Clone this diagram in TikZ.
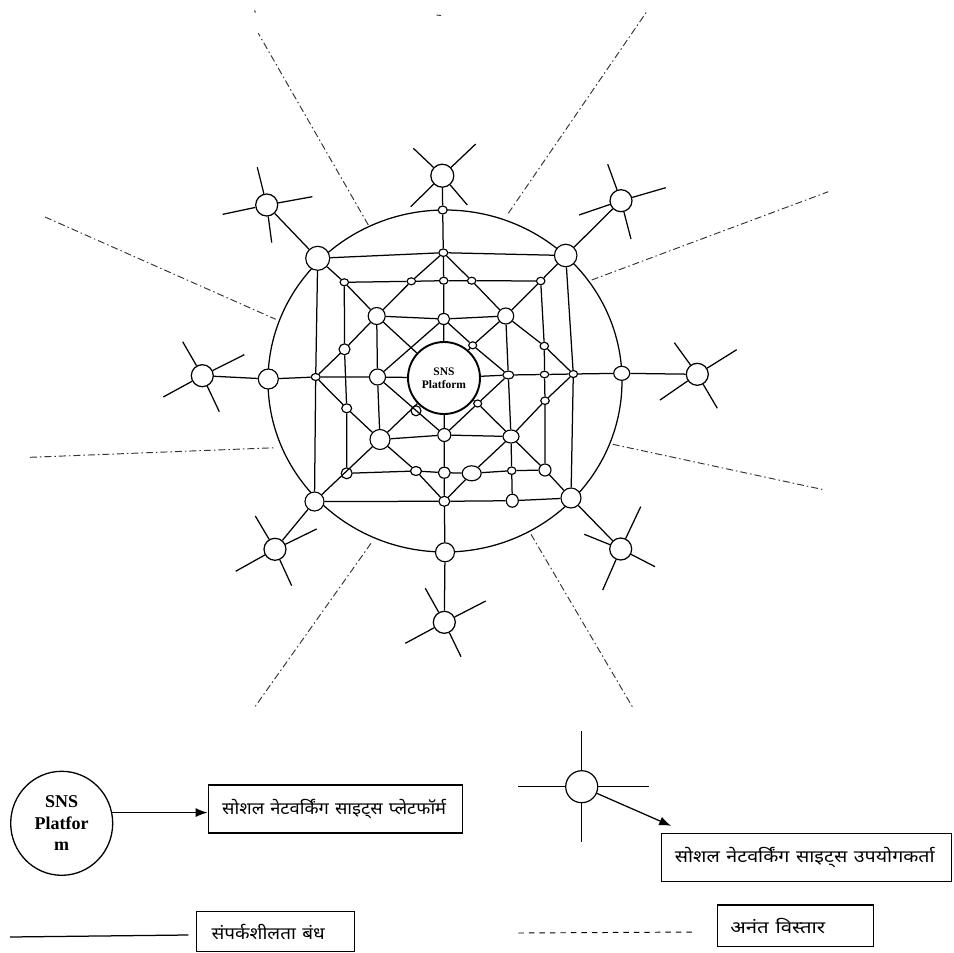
\documentclass[tikz,border=0pt]{standalone}
\usepackage{fontspec}
\usepackage{graphicx}
\setmainfont{Liberation Serif}
\newfontfamily\hindi[Script=Devanagari]{Noto Sans}
\usetikzlibrary{shapes.geometric,arrows.meta}
\begin{document}
\begin{tikzpicture}[x=1pt,y=-1pt,line width=1.25pt,
  nd/.style={circle,draw,fill=white,inner sep=0pt,line width=1.15pt},
  ne/.style={ellipse,draw,fill=white,inner sep=0pt,line width=1.15pt},
  hollow/.style={circle,draw,inner sep=0pt,line width=1.15pt},
  user/.style={circle,draw,fill=white,inner sep=0pt,minimum size=22pt,line width=1.25pt},
  ray/.style={line width=0.95pt,dash pattern=on 7pt off 3pt on 1.5pt off 3pt,black!80},
  lbox/.style={draw,line width=1.2pt,inner sep=0pt,align=left,font=\hindi\fontsize{17}{20}\selectfont},
  arr/.style={-{Latex[length=12pt,width=9pt]}}]
\useasboundingbox (0,0) rectangle (954,953);

% big circle
\draw (445,381) ellipse [x radius=177, y radius=171];

% infinite extension rays
\draw[ray] (45,217) -- (275.7,319.3);
\draw[ray] (30,457.3) -- (275.7,447.7);
\draw[ray] (371,543.3) -- (255,706.7);
\draw[ray] (531,534.3) -- (632.3,706.7);
\draw[ray] (612.7,444.3) -- (825,490);
\draw[ray] (591.7,280) -- (828.3,191.7);
\draw[ray] (508.3,213.3) -- (646.7,11.7);
\draw[ray] (368.3,225) -- (258.3,33.3);
\draw[line width=0.9pt,black!80] (254.5,10.5) -- (255.5,12.5);
\draw[line width=0.9pt,black!80] (436.5,15) -- (441,15.5);

% circle boundary nodes
\node[ne,minimum width=9pt,minimum height=8pt] (cT) at (442.7,210) {};
\node[nd,minimum size=20pt] (cL) at (268.3,379) {};
\node[ne,minimum width=16pt,minimum height=14pt] (cR) at (621.7,373.3) {};
\node[nd,minimum size=19pt] (cB) at (445,552.3) {};
% outer square
\node[nd,minimum size=24pt] (oTL) at (317.7,258.3) {};
\node[ne,minimum width=9pt,minimum height=7.5pt] (oT) at (443.3,252.7) {};
\node[nd,minimum size=22.5pt] (oTR) at (565.7,255.5) {};
\node[ne,minimum width=9pt,minimum height=7pt] (oL) at (315.7,377) {};
\node[ne,minimum width=8.5pt,minimum height=7pt] (oR) at (573.3,374) {};
\node[nd,minimum size=19pt] (oBL) at (314.5,501.5) {};
\node[ne,minimum width=11pt,minimum height=10pt] (oB) at (444.3,501.3) {};
\node[ne,minimum width=12pt,minimum height=13pt] (oB2) at (512.3,500.7) {};
\node[nd,minimum size=20pt] (oBR) at (571,498) {};
% second square
\node[ne,minimum width=8.5pt,minimum height=7pt] (sTL) at (344.3,282.3) {};
\node[ne,minimum width=8.5pt,minimum height=7pt] (sT1) at (411.3,281.3) {};
\node[ne,minimum width=8.5pt,minimum height=7pt] (sT) at (443.7,280.7) {};
\node[ne,minimum width=8.5pt,minimum height=7pt] (sT2) at (471.7,280.7) {};
\node[ne,minimum width=8.5pt,minimum height=7.5pt] (sTR) at (540.7,281) {};
\node[nd,minimum size=11pt] (sL1) at (344.5,349.3) {};
\node[ne,minimum width=10pt,minimum height=9pt] (sL2) at (346.7,408.3) {};
\node[ne,minimum width=8.5pt,minimum height=7.5pt] (sR1) at (544.3,346) {};
\node[ne,minimum width=8.5pt,minimum height=6.5pt] (sR) at (544.5,374.5) {};
\node[ne,minimum width=8.5pt,minimum height=7.5pt] (sR2) at (545,400.7) {};
\node[hollow,minimum size=11pt] (sBL) at (346.7,473.3) {};
\node[ne,minimum width=11pt,minimum height=9pt] (sB1) at (416,471) {};
\node[ne,minimum width=12pt,minimum height=11pt] (sB) at (444.3,472.7) {};
\node[ne,minimum width=19pt,minimum height=15pt] (sB2) at (471.7,473.3) {};
\node[ne,minimum width=8.5pt,minimum height=7.5pt] (sB3) at (511.7,470.7) {};
\node[nd,minimum size=12pt] (sBR) at (545,470) {};
% inner square
\node[nd,minimum size=17pt] (iTL) at (376.7,316) {};
\node[ne,minimum width=12pt,minimum height=11pt] (iT) at (443.7,319) {};
\node[nd,minimum size=16pt] (iTR) at (505.7,316) {};
\node[nd,minimum size=16pt] (iL) at (377.5,377) {};
\node[ne,minimum width=11pt,minimum height=8pt] (iR) at (508.3,375) {};
\node[nd,minimum size=20pt] (iBL) at (380,439.5) {};
\node[nd,minimum size=13pt] (iB) at (444.3,435) {};
\node[ne,minimum width=16pt,minimum height=13pt] (iBR) at (511,436.5) {};
% inner diamond crossings
\node[ne,minimum width=8pt,minimum height=7pt] (dTR) at (472.7,345.3) {};
\node[hollow,minimum size=10pt] (dBL) at (416,410.8) {};
\node[ne,minimum width=8pt,minimum height=7pt] (dBR) at (477.7,403.5) {};
% centre
\node[circle,draw,fill=white,line width=1.9pt,minimum size=72pt,inner sep=0pt,align=center,
  font=\bfseries\fontsize{11.5}{12.5}\selectfont] (C) at (444,378) {SNS\\Platform};
% users
\node[user,minimum size=23pt] (Tu) at (442.3,175.7) {};
\node[user] (TLu) at (266.7,205) {};
\node[user] (TRu) at (621,200.7) {};
\node[user] (Lu) at (202.3,375.7) {};
\node[user] (Ru) at (697.3,374.3) {};
\node[user] (BLu) at (275,549.3) {};
\node[user] (BRu) at (620.7,549) {};
\node[user] (Bu) at (444.3,622.3) {};

% spokes
\foreach \a/\l in {-136.6/39.9,49.5/38.5,-43.5/46,135.5/44.3} \draw (Tu) -- ++(\a:\l);
\foreach \a/\l in {-104/38.9,82.4/38,168/45,-10.3/46.4} \draw (TLu) -- ++(\a:\l);
\foreach \a/\l in {-110/38.8,75.4/39.6,161.2/44.4,-16.2/46.6} \draw (TRu) -- ++(\a:\l);
\foreach \a/\l in {-120/39.2,64.7/39.8,151.4/44.4,-26.6/47} \draw (Lu) -- ++(\a:\l);
\foreach \a/\l in {-126/39.1,59.5/39.4,145.4/45.3,-32/46.4} \draw (Ru) -- ++(\a:\l);
\foreach \a/\l in {-120.6/38.7,65.4/40,150.8/45,-26/46.4} \draw (BLu) -- ++(\a:\l);
\foreach \a/\l in {-64.7/46.8,113.7/44.8,-158/39.3,27.3/38.6} \draw (BRu) -- ++(\a:\l);
\foreach \a/\l in {-119.2/39,64.1/38.2,151.7/44.3,-27.2/46.6} \draw (Bu) -- ++(\a:\l);

% axes
\draw (Lu) -- (cL) -- (oL) -- (iL) -- (C) -- (iR) -- (sR) -- (oR) -- (cR) -- (Ru);
\draw (Tu) -- (cT) -- (oT) -- (sT) -- (iT) -- (C) -- (iB) -- (sB) -- (oB) -- (cB) -- (Bu);
% outer square
\draw (oTL) -- (oT) -- (oTR) -- (oR) -- (oBR) -- (oB2) -- (oB) -- (oBL) -- (oL) -- (oTL);
% second square
\draw (sTL) -- (sT1) -- (sT) -- (sT2) -- (sTR) -- (sR1) -- (sR) -- (sR2) -- (sBR) -- (sB3)
  -- (sB2) -- (sB) -- (sB1) -- (sBL) -- (sL2) -- (sL1) -- (sTL);
% inner square
\draw (iTL) -- (iT) -- (iTR) -- (iR) -- (iBR) -- (iB) -- (iBL) -- (iL) -- (iTL);
% outer diamond
\draw (oT) -- (sT1) -- (iTL) -- (sL1) -- (oL) -- (sL2) -- (iBL) -- (sB1) -- (oB) -- (sB2)
  -- (iBR) -- (sR2) -- (oR) -- (sR1) -- (iTR) -- (sT2) -- (oT);
% inner diamond
\draw (iT) -- (iL) -- (iB) -- (dBR) -- (iR) -- (dTR) -- (iT);
% corner diagonals
\draw (TLu) -- (oTL) -- (sTL) -- (iTL) -- (C);
\draw (TRu) -- (oTR) -- (sTR) -- (iTR) -- (dTR) -- (C);
\draw (BLu) -- (oBL) -- (iBL) -- (C);
\draw (BRu) -- (oBR) -- (sBR) -- (iBR) -- (dBR) -- (C);
% extra vertical
\draw (iBR) -- (sB3) -- (oB2);

% ---------- legend ----------
\node[ellipse,draw,line width=1.3pt,minimum width=102pt,minimum height=104pt,inner sep=0pt,align=center,
  font=\bfseries\fontsize{18}{21.5}\selectfont] (LC) at (61.7,823.3) {SNS\\Platfor\\m};
\node[lbox,minimum width=254pt,minimum height=48pt,text width=226pt] (B1) at (335.2,809)
  {\resizebox{224pt}{\height}{सोशल नेटवर्किंग साइट्स प्लेटफॉर्म}};
\draw[arr] (LC.12) -- (B1.west |- LC.12);

\node[circle,draw,fill=white,minimum size=32pt,inner sep=0pt,line width=1.2pt] (LU) at (581.7,786.7) {};
\foreach \a/\l in {-90/55.7,90/55,180/63.4,0/67.3} \draw (LU) -- ++(\a:\l);
\node[lbox,minimum width=290pt,minimum height=48pt,text width=264pt] (B3) at (806.8,857.5)
  {\resizebox{260pt}{\height}{सोशल नेटवर्किंग साइट्स उपयोगकर्ता}};
\draw[arr] (LU) -- ([shift={(10,-7)}]B3.north west);

\coordinate (s1) at (10,937);
\coordinate (s2) at (188.3,935);
\draw (s1) -- (s2);
\node[lbox,minimum width=157.6pt,minimum height=40pt,text width=127.6pt] (B2) at (275.5,931.7)
  {\resizebox{113pt}{\height}{संपर्कशीलता बंध}};

\coordinate (d1) at (518.3,933);
\coordinate (d2) at (696.7,932);
\draw[line width=0.95pt,dash pattern=on 5.5pt off 5pt] (d1) -- (d2);
\node[lbox,minimum width=156pt,minimum height=41.7pt,text width=130pt] (B4) at (795.3,925.8)
  {\resizebox{95pt}{\height}{अनंत विस्तार}};
\end{tikzpicture}
\end{document}
